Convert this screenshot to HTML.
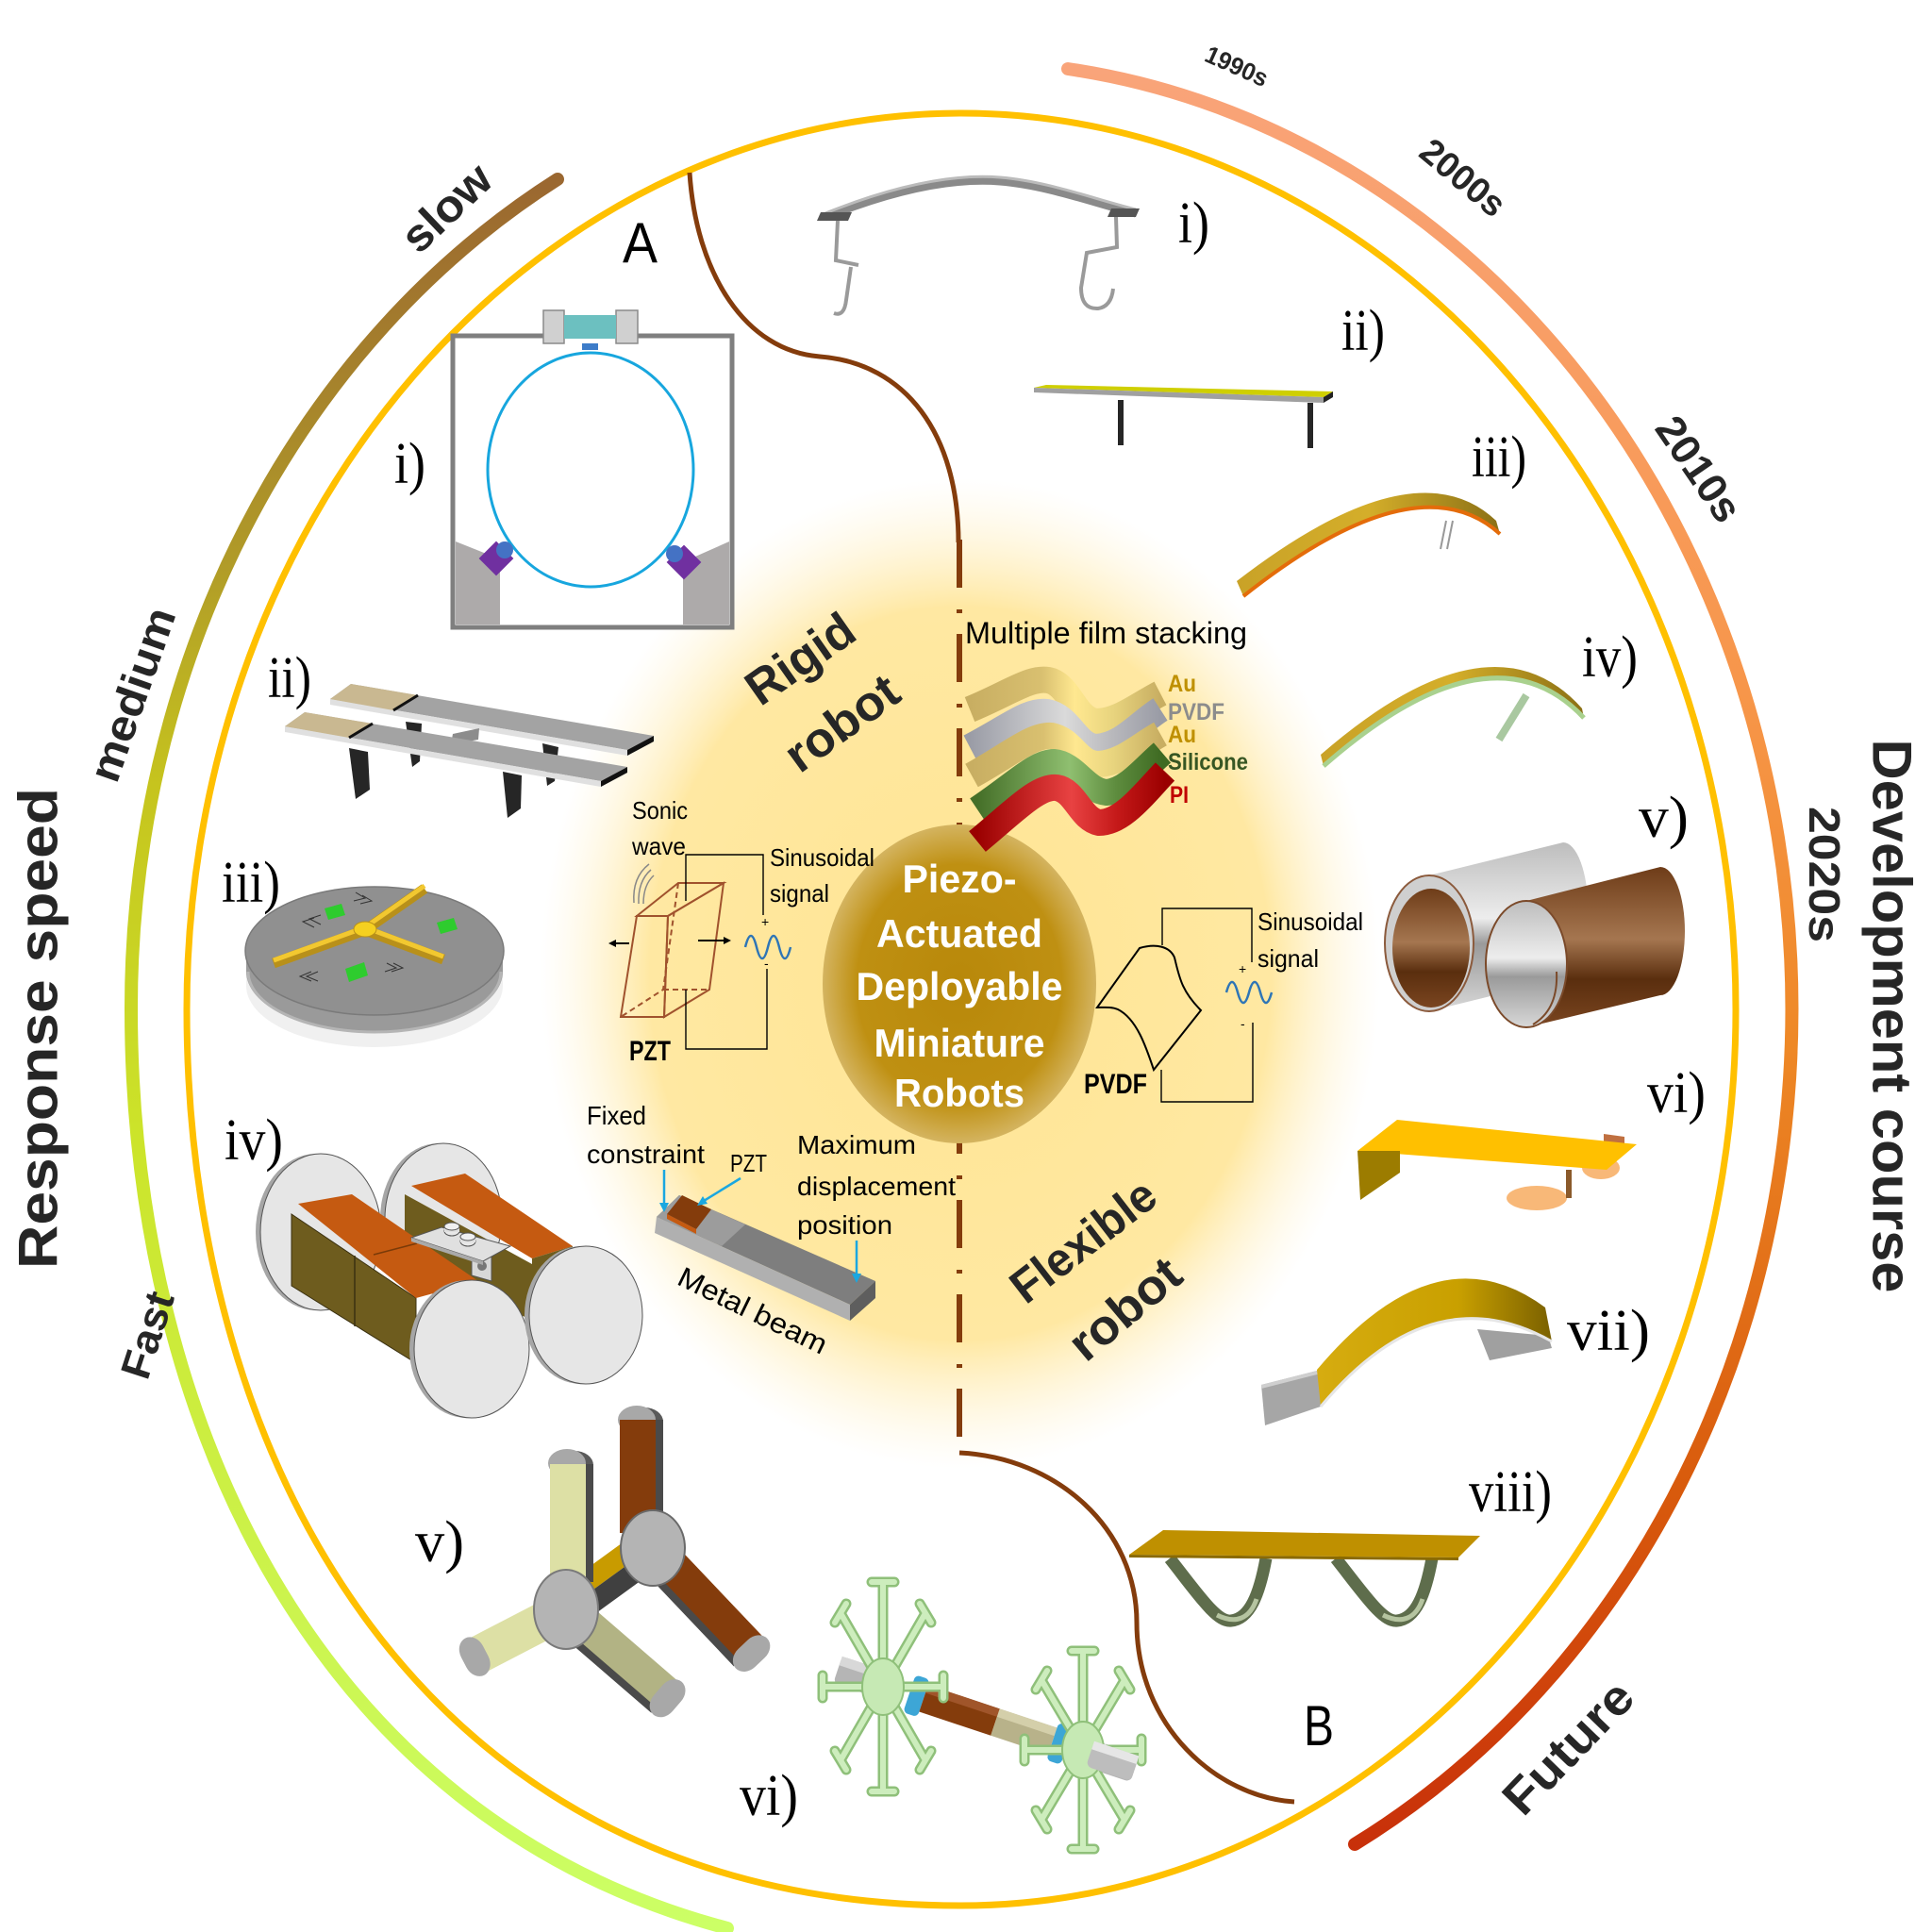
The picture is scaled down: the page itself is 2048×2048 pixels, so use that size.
<!DOCTYPE html>
<html><head><meta charset="utf-8"><title>Piezo-Actuated Deployable Miniature Robots</title>
<style>
html,body{margin:0;padding:0;background:#fff;width:2048px;height:2048px;overflow:hidden}
svg{display:block}
.s{font-family:"Liberation Sans",Arial,sans-serif}
.r{font-family:"Liberation Serif","Times New Roman",serif}
</style></head><body>
<svg width="2048" height="2048" viewBox="0 0 2048 2048" xmlns="http://www.w3.org/2000/svg">
<defs>
<radialGradient id="glow" cx="0.5" cy="0.5" r="0.5">
 <stop offset="0" stop-color="#FFE592"/>
 <stop offset="0.74" stop-color="#FFE8A2"/>
 <stop offset="1" stop-color="#FFF4D6" stop-opacity="0"/>
</radialGradient>
<radialGradient id="core" cx="0.5" cy="0.5" r="0.5">
 <stop offset="0" stop-color="#B8880A"/>
 <stop offset="0.75" stop-color="#BF9012"/>
 <stop offset="1" stop-color="#D4B460"/>
</radialGradient>
<linearGradient id="gL" gradientUnits="userSpaceOnUse" x1="0" y1="180" x2="0" y2="2045">
 <stop offset="0" stop-color="#9A6630"/>
 <stop offset="0.22" stop-color="#B09A28"/>
 <stop offset="0.35" stop-color="#C6C41E"/>
 <stop offset="0.55" stop-color="#CCE42A"/>
 <stop offset="1" stop-color="#CCFF66"/>
</linearGradient>
<linearGradient id="gR" gradientUnits="userSpaceOnUse" x1="0" y1="70" x2="0" y2="1960">
 <stop offset="0" stop-color="#F9A47A"/>
 <stop offset="0.35" stop-color="#F7964A"/>
 <stop offset="0.55" stop-color="#EE8826"/>
 <stop offset="0.8" stop-color="#D85A0C"/>
 <stop offset="1" stop-color="#C8300A"/>
</linearGradient>
<linearGradient id="silver" x1="0" y1="0" x2="0" y2="1">
 <stop offset="0" stop-color="#BDBDBD"/>
 <stop offset="0.45" stop-color="#EDEDED"/>
 <stop offset="0.6" stop-color="#9A9A9A"/>
 <stop offset="1" stop-color="#D8D8D8"/>
</linearGradient>
<linearGradient id="brown" x1="0" y1="0" x2="0" y2="1">
 <stop offset="0" stop-color="#6E3C18"/>
 <stop offset="0.45" stop-color="#A57650"/>
 <stop offset="0.7" stop-color="#5A2E0E"/>
 <stop offset="1" stop-color="#7A4520"/>
</linearGradient>
<linearGradient id="gold" x1="0" y1="0" x2="1" y2="0">
 <stop offset="0" stop-color="#D6AC10"/>
 <stop offset="0.6" stop-color="#C9A000"/>
 <stop offset="1" stop-color="#7A6000"/>
</linearGradient>
<linearGradient id="gold2" x1="0" y1="0" x2="1" y2="0">
 <stop offset="0" stop-color="#C9A227"/>
 <stop offset="0.5" stop-color="#D4AE2A"/>
 <stop offset="1" stop-color="#8B7015"/>
</linearGradient>
<linearGradient id="fAu" x1="0" y1="0" x2="1" y2="0">
 <stop offset="0" stop-color="#C8AE62"/><stop offset="0.38" stop-color="#D9C070"/>
 <stop offset="0.55" stop-color="#FFE890"/><stop offset="0.75" stop-color="#E8D47E"/><stop offset="1" stop-color="#C8AE62"/>
</linearGradient>
<linearGradient id="fPV" x1="0" y1="0" x2="1" y2="0">
 <stop offset="0" stop-color="#9A9CA6"/><stop offset="0.5" stop-color="#DADADA"/>
 <stop offset="0.75" stop-color="#B8B8BC"/><stop offset="1" stop-color="#9A9CA6"/>
</linearGradient>
<linearGradient id="fSi" x1="0" y1="0" x2="1" y2="0">
 <stop offset="0" stop-color="#456F28"/><stop offset="0.5" stop-color="#8FBF70"/>
 <stop offset="0.75" stop-color="#5E8C3E"/><stop offset="1" stop-color="#3E6A22"/>
</linearGradient>
<linearGradient id="fPI" x1="0" y1="0" x2="1" y2="0">
 <stop offset="0" stop-color="#9A0000"/><stop offset="0.5" stop-color="#E84242"/>
 <stop offset="0.75" stop-color="#C41818"/><stop offset="1" stop-color="#9A0000"/>
</linearGradient>
</defs>

<!-- central glow -->
<ellipse cx="1018" cy="1032" rx="445" ry="525" fill="url(#glow)"/>

<!-- rings -->
<path d="M1019,120 A821 950 0 0 0 198,1070 C198,1545 444,2020 1019,2020 A821 950 0 0 0 1840,1070 A821 950 0 0 0 1019,120 Z" fill="none" stroke="#FFC000" stroke-width="7"/>
<path d="M591,190 A880 1005 0 0 0 139,1070 C139,1499 332,1928 771,2044" fill="none" stroke="url(#gL)" stroke-width="14" stroke-linecap="round"/>
<path d="M1132,73 A880 1005 0 0 1 1436,1955" fill="none" stroke="url(#gR)" stroke-width="14" stroke-linecap="round"/>

<!-- brown separators -->
<path d="M731,183 C738,290 790,372 869,378 C960,385 1016,460 1016,575" fill="none" stroke="#843C0C" stroke-width="5"/>
<line x1="1017" y1="572" x2="1017" y2="1525" stroke="#843C0C" stroke-width="6" stroke-dasharray="51 23 4 22"/>
<path d="M1017,1540 C1120,1545 1205,1620 1205,1720 C1205,1830 1290,1905 1372,1910" fill="none" stroke="#843C0C" stroke-width="5"/>

<!-- center core -->
<ellipse cx="1017" cy="1043" rx="145" ry="169" fill="url(#core)"/>
<g class="s" font-weight="bold" fill="#fff" font-size="42" text-anchor="middle">
 <text x="1017" y="946" textLength="121" lengthAdjust="spacingAndGlyphs">Piezo-</text>
 <text x="1017" y="1004" textLength="176" lengthAdjust="spacingAndGlyphs">Actuated</text>
 <text x="1017" y="1060" textLength="219" lengthAdjust="spacingAndGlyphs">Deployable</text>
 <text x="1017" y="1120" textLength="181" lengthAdjust="spacingAndGlyphs">Miniature</text>
 <text x="1017" y="1173" textLength="138" lengthAdjust="spacingAndGlyphs">Robots</text>
</g>

<!-- outer labels -->
<g class="s" font-weight="bold" fill="#262626" text-anchor="middle">
 <text transform="translate(473,220) rotate(-43.6)" dy="0.35em" font-size="48" textLength="112" lengthAdjust="spacingAndGlyphs">slow</text>
 <text transform="translate(140,736) rotate(-70.7)" dy="0.35em" font-size="46" textLength="192" lengthAdjust="spacingAndGlyphs">medium</text>
 <text transform="translate(156,1415) rotate(-72)" dy="0.35em" font-size="44" textLength="94" lengthAdjust="spacingAndGlyphs">Fast</text>
 <text transform="translate(40,1090) rotate(-90)" dy="0.35em" font-size="58" textLength="510" lengthAdjust="spacingAndGlyphs">Response speed</text>
 <text transform="translate(2006,1077) rotate(90)" dy="0.35em" font-size="58" textLength="587" lengthAdjust="spacingAndGlyphs">Development course</text>
 <text transform="translate(1934,927) rotate(90)" dy="0.35em" font-size="46" textLength="144" lengthAdjust="spacingAndGlyphs">2020s</text>
 <text transform="translate(1801,497) rotate(55.6)" dy="0.35em" font-size="44" textLength="125" lengthAdjust="spacingAndGlyphs">2010s</text>
 <text transform="translate(1551,188) rotate(40)" dy="0.35em" font-size="38" textLength="105" lengthAdjust="spacingAndGlyphs">2000s</text>
 <text transform="translate(1311,70) rotate(24)" dy="0.35em" font-size="26" textLength="70" lengthAdjust="spacingAndGlyphs">1990s</text>
 <text transform="translate(1662,1852) rotate(-46)" dy="0.35em" font-size="52" textLength="174" lengthAdjust="spacingAndGlyphs">Future</text>
 <text transform="translate(848,698) rotate(-35)" dy="0.35em" font-size="52" textLength="128" lengthAdjust="spacingAndGlyphs">Rigid</text>
 <text transform="translate(892,766) rotate(-36)" dy="0.35em" font-size="52" textLength="136" lengthAdjust="spacingAndGlyphs">robot</text>
 <text transform="translate(1148,1315) rotate(-37.6)" dy="0.35em" font-size="50" textLength="180" lengthAdjust="spacingAndGlyphs">Flexible</text>
 <text transform="translate(1192,1387) rotate(-40)" dy="0.35em" font-size="52" textLength="138" lengthAdjust="spacingAndGlyphs">robot</text>
</g>

<!-- A / B -->
<g class="s" fill="#000" font-size="60">
 <text x="660" y="278" textLength="37" lengthAdjust="spacingAndGlyphs">A</text>
 <text x="1382" y="1850" textLength="32" lengthAdjust="spacingAndGlyphs">B</text>
</g>

<!-- roman numerals -->
<g class="r" fill="#000" font-size="62">
 <text x="418" y="512" textLength="33" lengthAdjust="spacingAndGlyphs">i)</text>
 <text x="284" y="739" textLength="46" lengthAdjust="spacingAndGlyphs">ii)</text>
 <text x="235" y="956" textLength="62" lengthAdjust="spacingAndGlyphs">iii)</text>
 <text x="238" y="1229" textLength="62" lengthAdjust="spacingAndGlyphs">iv)</text>
 <text x="440" y="1655" textLength="52" lengthAdjust="spacingAndGlyphs">v)</text>
 <text x="784" y="1924" textLength="62" lengthAdjust="spacingAndGlyphs">vi)</text>
 <text x="1249" y="257" textLength="33" lengthAdjust="spacingAndGlyphs">i)</text>
 <text x="1422" y="371" textLength="46" lengthAdjust="spacingAndGlyphs">ii)</text>
 <text x="1560" y="505" textLength="58" lengthAdjust="spacingAndGlyphs">iii)</text>
 <text x="1677" y="717" textLength="59" lengthAdjust="spacingAndGlyphs">iv)</text>
 <text x="1737" y="887" textLength="53" lengthAdjust="spacingAndGlyphs">v)</text>
 <text x="1746" y="1179" textLength="62" lengthAdjust="spacingAndGlyphs">vi)</text>
 <text x="1661" y="1431" textLength="88" lengthAdjust="spacingAndGlyphs">vii)</text>
 <text x="1557" y="1602" textLength="88" lengthAdjust="spacingAndGlyphs">viii)</text>
</g>

<!-- ===== LEFT i) box ===== -->
<rect x="480" y="356" width="296" height="309" fill="#fff" stroke="#7F7F7F" stroke-width="5"/>
<polygon points="483,574 518,588 530,606 530,662 483,662" fill="#ADAAAA"/>
<polygon points="773,574 737,590 724,606 724,662 773,662" fill="#ADAAAA"/>
<ellipse cx="626" cy="498" rx="109" ry="124" fill="none" stroke="#17A6DE" stroke-width="3"/>
<rect x="576" y="329" width="22" height="35" fill="#D0D0D0" stroke="#8A8A8A" stroke-width="1.5"/>
<rect x="653" y="329" width="23" height="35" fill="#D0D0D0" stroke="#8A8A8A" stroke-width="1.5"/>
<rect x="598" y="334" width="55" height="25" fill="#6CC0C0"/>
<rect x="617" y="364" width="17" height="7" fill="#3D7CC9"/>
<rect x="513" y="579" width="26" height="26" fill="#7030A0" transform="rotate(45 526 592)"/>
<circle cx="535" cy="583" r="9" fill="#4472C4"/>
<rect x="712" y="583" width="26" height="26" fill="#7030A0" transform="rotate(45 725 596)"/>
<circle cx="715" cy="587" r="9" fill="#4472C4"/>

<!-- ===== LEFT ii) bench ===== -->
<polygon points="430,765 447,767 445,807 437,813" fill="#262626"/>
<polygon points="575,788 592,792 588,828 580,833" fill="#262626"/>
<polygon points="350,741 372,725 693,780 665,795" fill="#A3A3A3"/>
<polygon points="350,741 665,795 665,801 350,747" fill="#E0E0E0"/>
<polygon points="665,795 693,780 693,786 665,801" fill="#111"/>
<polygon points="350,741 372,725 443,737 417,753" fill="#C9B891"/>
<line x1="417" y1="753" x2="443" y2="737" stroke="#111" stroke-width="3"/>
<polygon points="480,778 508,772 507,784 478,789" fill="#8C8C8C"/>
<polygon points="370,793 390,797 392,837 377,847" fill="#262626"/>
<polygon points="533,818 553,822 552,857 538,867" fill="#262626"/>
<polygon points="302,770 323,755 665,813 637,828" fill="#A3A3A3"/>
<polygon points="302,770 637,828 637,834 302,776" fill="#E0E0E0"/>
<polygon points="637,828 665,813 665,819 637,834" fill="#111"/>
<polygon points="302,770 323,755 395,767 370,782" fill="#C9B891"/>
<line x1="370" y1="782" x2="395" y2="767" stroke="#111" stroke-width="3"/>

<!-- ===== LEFT iii) disk ===== -->
<path d="M261,1010 L261,1045 A136 65 0 0 0 533,1045 L533,1010 Z" fill="#F0F0F0"/>
<path d="M261,1010 L261,1030 A136 65 0 0 0 533,1030 L533,1010 Z" fill="#9A9A9A"/>
<path d="M263,1030 A134 64 0 0 0 531,1030" fill="none" stroke="#B5B5B5" stroke-width="3"/>
<ellipse cx="397" cy="1008" rx="137" ry="68" fill="#909090" stroke="#7A7A7A" stroke-width="1.5"/>
<g stroke="#B8901A" stroke-width="11" stroke-linecap="butt">
 <line x1="387" y1="986" x2="450" y2="942"/>
 <line x1="387" y1="986" x2="290" y2="1021"/>
 <line x1="387" y1="986" x2="470" y2="1017"/>
</g>
<g stroke="#F2C830" stroke-width="5" stroke-linecap="butt">
 <line x1="387" y1="983" x2="450" y2="939"/>
 <line x1="387" y1="983" x2="290" y2="1018"/>
 <line x1="387" y1="983" x2="470" y2="1014"/>
</g>
<g fill="none" stroke="#333" stroke-width="1">
 <path d="M340,980 l-12,-6 l12,-4 M333,983 l-12,-6 l12,-4"/>
 <path d="M375,955 l12,-3 l-10,-6 M382,958 l12,-3 l-10,-6"/>
 <path d="M330,1040 l-12,-5 l12,-5 M337,1040 l-12,-5 l12,-5"/>
 <path d="M408,1030 l12,-4 l-10,-5 M415,1030 l12,-4 l-10,-5"/>
</g>
<ellipse cx="387" cy="985" rx="12" ry="8" fill="#F5D020" stroke="#B8901A" stroke-width="1"/>
<polygon points="344,963 362,958 366,970 348,975" fill="#2ECC2E"/>
<polygon points="463,978 481,973 485,985 467,990" fill="#2ECC2E"/>
<polygon points="366,1027 386,1020 390,1034 370,1041" fill="#2ECC2E"/>

<!-- ===== LEFT iv) cylinder robot ===== -->
<ellipse cx="335" cy="1306" rx="64" ry="83" fill="#A6A6A6"/>
<ellipse cx="340" cy="1306" rx="64" ry="83" fill="#E6E6E6" stroke="#555" stroke-width="1"/>
<ellipse cx="465" cy="1292" rx="62" ry="80" fill="#A6A6A6"/>
<ellipse cx="470" cy="1292" rx="62" ry="80" fill="#E6E6E6" stroke="#555" stroke-width="1"/>
<polygon points="429,1266 564,1340 564,1400 429,1330" fill="#6E5C1E"/>
<polygon points="436,1257 493,1244 607,1321 564,1334" fill="#C55A11"/>
<polygon points="564,1334 607,1321 607,1385 564,1400" fill="#6E5C1E"/>
<polygon points="309,1287 441,1376 441,1445 309,1363" fill="#6E5C1E" stroke="#3A3010" stroke-width="1"/>
<line x1="376" y1="1331" x2="376" y2="1406" stroke="#3A3010" stroke-width="1.5"/>
<polygon points="316,1276 373,1266 507,1358 441,1376" fill="#C55A11"/>
<line x1="396" y1="1330" x2="442" y2="1318" stroke="#7A3A08" stroke-width="1.5"/>
<polygon points="500,1326 521,1326 521,1358 500,1352" fill="#D8D8D8" stroke="#555" stroke-width="1"/>
<circle cx="511" cy="1342" r="5" fill="#777"/>
<polygon points="436,1312 468,1301 541,1321 512,1337" fill="#E0E0E0" stroke="#555" stroke-width="1"/>
<polygon points="436,1312 512,1337 512,1341 436,1316" fill="#AAA"/>
<ellipse cx="479" cy="1305" rx="8" ry="5" fill="#E8E8E8" stroke="#555" stroke-width="1"/>
<rect x="471" y="1300" width="16" height="6" fill="#E0E0E0"/>
<ellipse cx="479" cy="1300" rx="8" ry="4" fill="#F0F0F0" stroke="#555" stroke-width="1"/>
<ellipse cx="496" cy="1316" rx="8" ry="5" fill="#E8E8E8" stroke="#555" stroke-width="1"/>
<rect x="488" y="1311" width="16" height="6" fill="#E0E0E0"/>
<ellipse cx="496" cy="1311" rx="8" ry="4" fill="#F0F0F0" stroke="#555" stroke-width="1"/>
<ellipse cx="495" cy="1430" rx="61" ry="73" fill="#A6A6A6"/>
<ellipse cx="500" cy="1430" rx="61" ry="73" fill="#E6E6E6" stroke="#555" stroke-width="1"/>
<ellipse cx="616" cy="1394" rx="60" ry="73" fill="#A6A6A6"/>
<ellipse cx="621" cy="1394" rx="60" ry="73" fill="#E6E6E6" stroke="#555" stroke-width="1"/>

<!-- ===== LEFT v) tri-star ===== -->
<g>
 <rect x="657" y="1492" width="46" height="30" rx="20" fill="#5A5A5A"/>
 <rect x="655" y="1490" width="40" height="30" rx="20" fill="#A8A8A8"/>
 <rect x="695" y="1505" width="8" height="120" fill="#4A4A4A"/>
 <rect x="657" y="1505" width="38" height="120" fill="#843C0C"/>
 <g transform="translate(692,1641) rotate(46.5)">
  <rect x="0" y="-20" width="150" height="40" fill="#843C0C"/>
  <rect x="0" y="16" width="150" height="8" fill="#4A4A4A"/>
  <rect x="140" y="-22" width="26" height="46" rx="16" fill="#A8A8A8"/>
 </g>
 <g transform="translate(600,1706) rotate(-36)">
  <rect x="20" y="-22" width="90" height="22" fill="#C89B00"/>
  <rect x="20" y="0" width="90" height="22" fill="#404040"/>
 </g>
 <ellipse cx="692" cy="1641" rx="34" ry="40" fill="#B4B4B4" stroke="#6A6A6A" stroke-width="2"/>
 <rect x="583" y="1538" width="46" height="30" rx="20" fill="#5A5A5A"/>
 <rect x="581" y="1536" width="40" height="30" rx="20" fill="#A8A8A8"/>
 <rect x="621" y="1552" width="8" height="125" fill="#4A4A4A"/>
 <rect x="583" y="1552" width="38" height="125" fill="#DDE0A5"/>
 <g transform="translate(600,1706) rotate(40.8)">
  <rect x="0" y="-20" width="140" height="40" fill="#B2B384"/>
  <rect x="0" y="16" width="140" height="8" fill="#4A4A4A"/>
  <rect x="130" y="-22" width="26" height="46" rx="16" fill="#A8A8A8"/>
 </g>
 <g transform="translate(600,1706) rotate(152.6)">
  <rect x="0" y="-20" width="105" height="40" fill="#DDE0A5"/>
  <rect x="96" y="-22" width="26" height="44" rx="16" fill="#A8A8A8"/>
 </g>
 <ellipse cx="600" cy="1706" rx="34" ry="42" fill="#B4B4B4" stroke="#7A7A7A" stroke-width="2"/>
</g>

<!-- ===== LEFT vi) wheel robot ===== -->
<g transform="translate(888,1770) rotate(18.4)">
 <rect x="0" y="-15" width="45" height="30" rx="6" fill="#B5B5B5"/>
 <rect x="0" y="-15" width="45" height="10" fill="#D8D8D8"/>
 <rect x="80" y="-21" width="16" height="42" rx="5" fill="#3DA6D6"/>
 <rect x="96" y="-15" width="80" height="30" fill="#843C0C"/>
 <rect x="96" y="-15" width="80" height="9" fill="#A0552A"/>
 <rect x="176" y="-15" width="64" height="30" fill="#B8B28A"/>
 <rect x="176" y="-15" width="64" height="9" fill="#D4CFAA"/>
 <rect x="240" y="-21" width="16" height="42" rx="5" fill="#3DA6D6"/>
 <rect x="282" y="-15" width="50" height="30" rx="6" fill="#B5B5B5"/>
 <rect x="282" y="-15" width="50" height="10" fill="#E0E0E0"/>
</g>
<g fill="none" stroke-linecap="round">
 <g stroke="#8FC07A" stroke-width="11">
  <path d="M936,1788 L1000,1788 M1000,1776 L1000,1800 M936,1788 L981,1866 M987,1856 L975,1876 M936,1788 L936,1899 M948,1899 L924,1899 M936,1788 L891,1866 M897,1876 L885,1856 M936,1788 L872,1788 M872,1800 L872,1776 M936,1788 L891,1710 M885,1720 L897,1700 M936,1788 L936,1677 M924,1677 L948,1677 M936,1788 L981,1710 M975,1700 L987,1720"/>
  <path d="M1148,1855 L1210,1855 M1210,1843 L1210,1867 M1148,1855 L1192,1929 M1198,1919 L1186,1939 M1148,1855 L1148,1960 M1160,1960 L1136,1960 M1148,1855 L1104,1929 M1110,1939 L1098,1919 M1148,1855 L1086,1855 M1086,1867 L1086,1843 M1148,1855 L1104,1781 M1098,1791 L1110,1771 M1148,1855 L1148,1750 M1136,1750 L1160,1750 M1148,1855 L1192,1781 M1186,1771 L1198,1791"/>
 </g>
 <g stroke="#CDEDBD" stroke-width="6">
  <path d="M936,1788 L1000,1788 M1000,1776 L1000,1800 M936,1788 L981,1866 M987,1856 L975,1876 M936,1788 L936,1899 M948,1899 L924,1899 M936,1788 L891,1866 M897,1876 L885,1856 M936,1788 L872,1788 M872,1800 L872,1776 M936,1788 L891,1710 M885,1720 L897,1700 M936,1788 L936,1677 M924,1677 L948,1677 M936,1788 L981,1710 M975,1700 L987,1720"/>
  <path d="M1148,1855 L1210,1855 M1210,1843 L1210,1867 M1148,1855 L1192,1929 M1198,1919 L1186,1939 M1148,1855 L1148,1960 M1160,1960 L1136,1960 M1148,1855 L1104,1929 M1110,1939 L1098,1919 M1148,1855 L1086,1855 M1086,1867 L1086,1843 M1148,1855 L1104,1781 M1098,1791 L1110,1771 M1148,1855 L1148,1750 M1136,1750 L1160,1750 M1148,1855 L1192,1781 M1186,1771 L1198,1791"/>
 </g>
</g>
<ellipse cx="936" cy="1788" rx="22" ry="30" fill="#C6E9B4" stroke="#8FC07A" stroke-width="2"/>
<ellipse cx="1148" cy="1855" rx="22" ry="30" fill="#C6E9B4" stroke="#8FC07A" stroke-width="2"/>
<g transform="translate(888,1770) rotate(18.4)">
 <rect x="282" y="-14" width="50" height="28" rx="6" fill="#BDBDBD"/>
 <rect x="282" y="-14" width="50" height="9" fill="#E6E6E6"/>
</g>

<!-- ===== center: PZT diagram ===== -->
<g fill="none" stroke="#A0522D" stroke-width="2">
 <polygon points="675,971 719,936 767,936 708,971"/>
 <polygon points="675,971 708,971 704,1078 658,1078"/>
 <polygon points="708,971 767,936 752,1049 704,1078"/>
 <path d="M719,936 L703,1049 L658,1078 M703,1049 L752,1049" stroke-dasharray="6 4"/>
</g>
<g fill="none" stroke="#000" stroke-width="1.4">
 <path d="M727,955 L727,906 L809,906 L809,970"/>
 <path d="M813,1027 L813,1112 L727,1112 L727,1049"/>
 <path d="M1232,1002 L1232,963 L1327,963 L1327,1020"/>
 <path d="M1328,1084 L1328,1168 L1231,1168 L1231,1134"/>
</g>
<g fill="none" stroke="#888" stroke-width="1.5">
 <path d="M672,957 Q670,930 688,916"/>
 <path d="M677,958 Q676,934 690,922"/>
 <path d="M682,958 Q682,938 693,928"/>
</g>
<g stroke="#000" stroke-width="2">
 <line x1="667" y1="1000" x2="650" y2="1000"/>
 <line x1="740" y1="997" x2="768" y2="997"/>
</g>
<polygon points="645,1000 653,996 653,1004" fill="#000"/>
<polygon points="775,997 767,993 767,1001" fill="#000"/>
<path d="M790,1004 q6,-24 12,0 t12,0 t12,0 t12,0" fill="none" stroke="#2E75B6" stroke-width="2.5"/>
<path d="M1300,1052 q6,-22 12,0 t12,0 t12,0 t12,0" fill="none" stroke="#2E75B6" stroke-width="2.5"/>
<path d="M1163,1068 L1208,1005 C1225,1000 1240,1003 1245,1015 C1250,1035 1252,1050 1273,1071 L1223,1134 C1215,1110 1205,1080 1185,1070 C1178,1067 1170,1068 1163,1068 Z" fill="none" stroke="#000" stroke-width="2"/>
<g class="s" fill="#000" font-size="14">
 <text x="807" y="982">+</text><text x="810" y="1026">-</text>
 <text x="1313" y="1032">+</text><text x="1315" y="1090">-</text>
</g>
<g class="s" fill="#000" font-size="26">
 <text x="670" y="868" textLength="59" lengthAdjust="spacingAndGlyphs">Sonic</text>
 <text x="670" y="906" textLength="57" lengthAdjust="spacingAndGlyphs">wave</text>
 <text x="816" y="918" textLength="111" lengthAdjust="spacingAndGlyphs">Sinusoidal</text>
 <text x="816" y="956" textLength="63" lengthAdjust="spacingAndGlyphs">signal</text>
 <text x="1333" y="986" textLength="112" lengthAdjust="spacingAndGlyphs">Sinusoidal</text>
 <text x="1333" y="1025" textLength="65" lengthAdjust="spacingAndGlyphs">signal</text>
 <text x="1023" y="682" font-size="32" textLength="299" lengthAdjust="spacingAndGlyphs">Multiple film stacking</text>
 <text x="622" y="1192" font-size="28" textLength="63" lengthAdjust="spacingAndGlyphs">Fixed</text>
 <text x="622" y="1233" font-size="28" textLength="125" lengthAdjust="spacingAndGlyphs">constraint</text>
 <text x="774" y="1242" textLength="39" lengthAdjust="spacingAndGlyphs">PZT</text>
 <text x="845" y="1223" font-size="28" textLength="126" lengthAdjust="spacingAndGlyphs">Maximum</text>
 <text x="845" y="1267" font-size="28" textLength="168" lengthAdjust="spacingAndGlyphs">displacement</text>
 <text x="845" y="1308" font-size="28" textLength="101" lengthAdjust="spacingAndGlyphs">position</text>
 <text transform="translate(798,1389) rotate(26)" text-anchor="middle" dy="0.35em" font-size="30" textLength="172" lengthAdjust="spacingAndGlyphs">Metal beam</text>
</g>
<g class="s" font-weight="bold" font-size="30" fill="#000">
 <text x="667" y="1124" textLength="44" lengthAdjust="spacingAndGlyphs">PZT</text>
 <text x="1149" y="1159" textLength="67" lengthAdjust="spacingAndGlyphs">PVDF</text>
</g>

<!-- film stack -->
<g fill="none" stroke-linejoin="round" stroke-linecap="butt" stroke-width="28">
 <path d="M1028,752 C1070,735 1095,715 1115,722 C1135,730 1140,762 1162,765 C1185,765 1205,748 1230,735" stroke="url(#fAu)"/>
 <path d="M1028,792 C1070,770 1090,752 1110,755 C1135,760 1140,790 1162,792 C1190,790 1205,768 1230,752" stroke="url(#fPV)"/>
 <path d="M1030,822 C1070,800 1095,778 1115,780 C1138,785 1142,810 1165,810 C1190,808 1205,792 1230,778" stroke="url(#fAu)"/>
 <path d="M1036,858 C1075,832 1098,808 1117,808 C1140,810 1150,838 1173,840 C1195,838 1212,815 1232,798" stroke="url(#fSi)"/>
 <path d="M1036,892 C1075,860 1100,833 1120,835 C1140,838 1145,868 1165,872 C1190,872 1212,842 1235,818" stroke="url(#fPI)"/>
</g>
<g class="s" font-weight="bold" font-size="25">
 <text x="1238" y="733" fill="#BF9000" textLength="30" lengthAdjust="spacingAndGlyphs">Au</text>
 <text x="1238" y="763" fill="#8C8C8C" textLength="60" lengthAdjust="spacingAndGlyphs">PVDF</text>
 <text x="1238" y="787" fill="#BF9000" textLength="30" lengthAdjust="spacingAndGlyphs">Au</text>
 <text x="1238" y="816" fill="#375623" textLength="85" lengthAdjust="spacingAndGlyphs">Silicone</text>
 <text x="1240" y="851" fill="#C00000" textLength="20" lengthAdjust="spacingAndGlyphs">PI</text>
</g>

<!-- metal beam -->
<polygon points="720,1267 928,1358 901,1383 696,1290" fill="#7E7E7E"/>
<polygon points="720,1267 790,1298 765,1321 696,1290" fill="#9C9C9C"/>
<polygon points="696,1290 901,1383 901,1400 694,1307" fill="#B0B0B0"/>
<polygon points="901,1383 928,1358 928,1376 901,1400" fill="#5E5E5E"/>
<polygon points="707,1287 723,1267 754,1282 738,1303" fill="#843C0C"/>
<polygon points="707,1287 738,1303 738,1308 707,1292" fill="#C55A11"/>
<g stroke="#1AA7E0" stroke-width="2.5" fill="#1AA7E0">
 <line x1="704" y1="1240" x2="704" y2="1277"/>
 <polygon points="704,1285 699,1275 709,1275" stroke="none"/>
 <line x1="785" y1="1249" x2="746" y2="1273"/>
 <polygon points="739,1278 745,1268 750,1276" stroke="none"/>
 <line x1="908" y1="1315" x2="908" y2="1352"/>
 <polygon points="908,1360 903,1350 913,1350" stroke="none"/>
</g>

<!-- ===== RIGHT i) ===== -->
<path d="M875,230 C950,200 1010,188 1060,192 C1110,196 1160,215 1204,226" fill="none" stroke="#8A8A8A" stroke-width="9"/>
<path d="M875,226 C950,196 1010,184 1060,188 C1110,192 1160,211 1204,222" fill="none" stroke="#BBBBBB" stroke-width="3"/>
<polygon points="870,225 903,225 899,234 866,234" fill="#555"/>
<polygon points="1178,221 1208,221 1204,230 1174,230" fill="#555"/>
<g fill="none" stroke="#9A9A9A" stroke-width="4">
 <path d="M888,234 L886,276 L910,281"/>
 <path d="M902,283 L897,318 Q895,336 884,332"/>
 <path d="M1183,230 L1184,262 L1152,268 L1146,305 Q1146,328 1164,327 Q1178,325 1180,306"/>
</g>

<!-- RIGHT ii) -->
<polygon points="1096,411 1109,408 1413,415 1403,421" fill="#CFCF00"/>
<polygon points="1096,411 1403,421 1403,427 1096,416" fill="#A0A0A0"/>
<polygon points="1403,421 1413,415 1413,421 1403,427" fill="#222"/>
<rect x="1185" y="424" width="6" height="48" fill="#262626"/>
<rect x="1386" y="427" width="6" height="48" fill="#262626"/>

<!-- RIGHT iii) -->
<path d="M1311,616 Q1500,470 1586,552 L1590,566 Q1502,486 1318,632 Z" fill="url(#gold2)"/>
<path d="M1318,632 Q1502,486 1590,566" fill="none" stroke="#E46C0A" stroke-width="4"/>
<g stroke="#999" stroke-width="2"><line x1="1533" y1="552" x2="1527" y2="582"/><line x1="1540" y1="552" x2="1534" y2="582"/></g>

<!-- RIGHT iv) -->
<line x1="1618" y1="737" x2="1589" y2="784" stroke="#A9C8A0" stroke-width="8"/>
<path d="M1400,800 Q1581,643 1677,751 L1679,761 Q1581,656 1403,812 Z" fill="url(#gold2)"/>
<path d="M1403,812 Q1581,656 1679,761" fill="none" stroke="#A9D18E" stroke-width="5"/>

<!-- RIGHT v) rolls -->
<path d="M1515,928 L1657,893 A25 68 0 0 1 1657,1037 L1515,1072 Z" fill="url(#silver)"/>
<ellipse cx="1515" cy="1000" rx="47" ry="72" fill="#CFCFCF" stroke="#8B5A3C" stroke-width="2"/>
<ellipse cx="1517" cy="1005" rx="41" ry="63" fill="url(#brown)"/>
<path d="M1618,955 L1760,919 A26 68 0 0 1 1760,1055 L1618,1089 Z" fill="url(#brown)"/>
<ellipse cx="1618" cy="1022" rx="43" ry="67" fill="url(#silver)" stroke="#7B4A2A" stroke-width="2"/>
<path d="M1650,1030 Q1652,1070 1625,1086" fill="none" stroke="#7B4A2A" stroke-width="2"/>

<!-- RIGHT vi) -->
<ellipse cx="1629" cy="1270" rx="32" ry="13" fill="#F8B878"/>
<rect x="1660" y="1240" width="6" height="30" fill="#8B5A2B"/>
<ellipse cx="1697" cy="1238" rx="20" ry="12" fill="#F8B878"/>
<polygon points="1700,1202 1722,1205 1722,1222 1700,1220" fill="#C07040"/>
<polygon points="1481,1187 1735,1213 1703,1240 1439,1220" fill="#FFC000"/>
<polygon points="1439,1220 1484,1220 1484,1243 1442,1272" fill="#9C7C00"/>

<!-- RIGHT vii) -->
<polygon points="1337,1468 1400,1452 1400,1491 1341,1511" fill="#A6A6A6"/>
<polygon points="1337,1468 1400,1452 1400,1456 1337,1472" fill="#CFCFCF"/>
<polygon points="1566,1409 1641,1416 1645,1429 1579,1442" fill="#A0A0A0"/>
<path d="M1396,1452 Q1523,1301 1638,1386 L1645,1422 Q1518,1350 1400,1491 Z" fill="url(#gold)"/>
<path d="M1400,1491 Q1518,1350 1645,1422" fill="none" stroke="#E6E6E6" stroke-width="3"/>

<!-- RIGHT viii) -->
<g fill="none" stroke-linecap="butt">
 <path d="M1240,1652 C1270,1690 1290,1720 1305,1718 C1325,1716 1335,1690 1342,1652" stroke="#5E6D4C" stroke-width="13"/>
 <path d="M1416,1652 C1446,1690 1466,1720 1481,1718 C1501,1716 1511,1690 1518,1652" stroke="#5E6D4C" stroke-width="13"/>
 <path d="M1290,1712 C1310,1722 1325,1716 1332,1695" stroke="#B5C4A0" stroke-width="5"/>
 <path d="M1466,1712 C1486,1722 1501,1716 1508,1695" stroke="#B5C4A0" stroke-width="5"/>
</g>
<polygon points="1197,1648 1233,1622 1569,1628 1546,1651" fill="#BF9000"/>
<polygon points="1197,1648 1546,1651 1546,1654 1197,1651" fill="#8A6A00"/>
</svg>
</body></html>
